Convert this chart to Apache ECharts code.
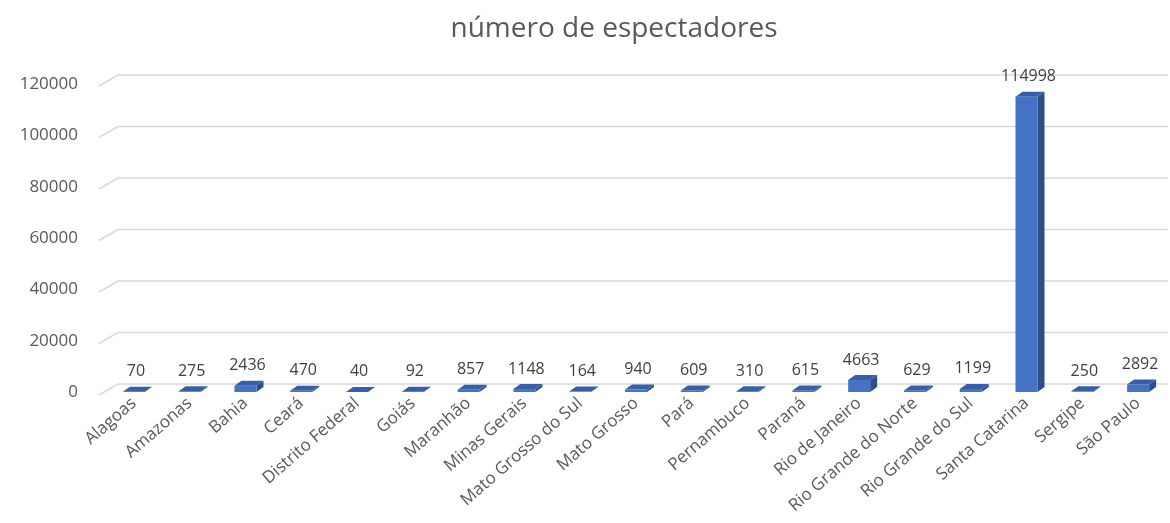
<!DOCTYPE html>
<html>
<head>
<meta charset="utf-8">
<script src="https://cdn.jsdelivr.net/npm/echarts@6/dist/echarts.min.js"></script>
<style>
  html, body { margin: 0; padding: 0; background: #ffffff; }
  #chart { width: 1170px; height: 523px; }
</style>
</head>
<body>
<div id="chart"></div>
<script>
// Espectadores por estado
const categories = [
  'Alagoas', 'Amazonas', 'Bahia', 'Ceará', 'Distrito Federal', 'Goiás',
  'Maranhão', 'Minas Gerais', 'Mato Grosso do Sul', 'Mato Grosso', 'Pará',
  'Pernambuco', 'Paraná', 'Rio de Janeiro', 'Rio Grande do Norte',
  'Rio Grande do Sul', 'Santa Catarina', 'Sergipe', 'São Paulo'
];
const espectadores = [
  70, 275, 2436, 470, 40, 92, 857, 1148, 164, 940, 609,
  310, 615, 4663, 629, 1199, 114998, 250, 2892
];
const yTicks = [0, 20000, 40000, 60000, 80000, 100000, 120000];

const FONT = '"Open Sans", "Noto Sans", sans-serif';
const TEXT_COLOR = '#595959';

// column shape: front face, right side and top face for a shallow 3D look
const FRONT_W = 22;
const DEPTH_X = 7;
const DEPTH_Y = 5;

function renderColumn(params, api) {
  const i = api.value(0);
  const v = api.value(1);
  const top = api.coord([i, v]);
  const base = api.coord([i, 0]);
  const cx = top[0];
  const x0 = cx - FRONT_W / 2;
  const x1 = cx + FRONT_W / 2;
  const yTop = top[1];
  const yBase = base[1];
  return {
    type: 'group',
    children: [
      {
        type: 'polygon',
        shape: { points: [[x1, yTop], [x1 + DEPTH_X, yTop - DEPTH_Y], [x1 + DEPTH_X, yBase - DEPTH_Y], [x1, yBase]] },
        style: { fill: '#2c4f8c' }
      },
      {
        type: 'rect',
        shape: { x: x0, y: yTop, width: FRONT_W, height: Math.max(yBase - yTop, 0) },
        style: { fill: '#4472c4' }
      },
      {
        type: 'polygon',
        shape: { points: [[x0, yTop], [x1, yTop], [x1 + DEPTH_X, yTop - DEPTH_Y], [x0 + DEPTH_X, yTop - DEPTH_Y]] },
        style: { fill: '#365fa8' }
      },
      {
        type: 'text',
        style: {
          text: String(v),
          x: cx + 2,
          y: yTop - DEPTH_Y - 7,
          align: 'center',
          verticalAlign: 'bottom',
          fontFamily: FONT,
          fontSize: 16,
          fill: '#404040'
        }
      }
    ]
  };
}

// gridlines on the back wall, with the short floor diagonal on the left
function renderGridLine(params, api) {
  const cs = params.coordSys;
  const y = api.coord([0, api.value(1)])[1];
  return {
    type: 'polyline',
    shape: { points: [[cs.x - 19, y + 11], [cs.x, y], [cs.x + cs.width, y]] },
    style: { stroke: '#d9d9d9', lineWidth: 1.5, fill: null }
  };
}

const chart = echarts.init(document.getElementById('chart'));
chart.setOption({
  backgroundColor: '#ffffff',
  animation: false,
  title: {
    text: 'número de espectadores',
    left: 609,
    textAlign: 'center',
    top: 10,
    textStyle: { fontFamily: FONT, fontSize: 28, fontWeight: 'normal', color: TEXT_COLOR }
  },
  grid: [
    { left: 118, right: 2, top: 75, bottom: 139 },
    { left: 106, right: 4, top: 84, bottom: 131 }
  ],
  xAxis: [
    { gridIndex: 0, type: 'value', min: 0, max: 1, show: false },
    {
      gridIndex: 1,
      type: 'category',
      data: categories,
      axisLine: { show: false },
      axisTick: { show: false },
      axisLabel: {
        interval: 0,
        rotate: 41,
        margin: 9,
        fontFamily: FONT,
        fontSize: 17,
        color: TEXT_COLOR
      }
    }
  ],
  yAxis: [
    { gridIndex: 0, type: 'value', min: 0, max: 120000, interval: 20000, show: false },
    {
      gridIndex: 1,
      type: 'value',
      min: 0,
      max: 120000,
      interval: 20000,
      axisLine: { show: false },
      axisTick: { show: false },
      splitLine: { show: false },
      axisLabel: {
        margin: 28,
        padding: [6, 0, 0, 0],
        formatter: v => String(v),
        fontFamily: FONT,
        fontSize: 17,
        color: TEXT_COLOR
      }
    }
  ],
  series: [
    {
      type: 'custom',
      xAxisIndex: 0,
      yAxisIndex: 0,
      silent: true,
      renderItem: renderGridLine,
      data: yTicks.map(t => [0, t])
    },
    {
      type: 'custom',
      xAxisIndex: 1,
      yAxisIndex: 1,
      renderItem: renderColumn,
      encode: { x: 0, y: 1 },
      data: espectadores.map((v, i) => [i, v])
    }
  ]
});
</script>
</body>
</html>
